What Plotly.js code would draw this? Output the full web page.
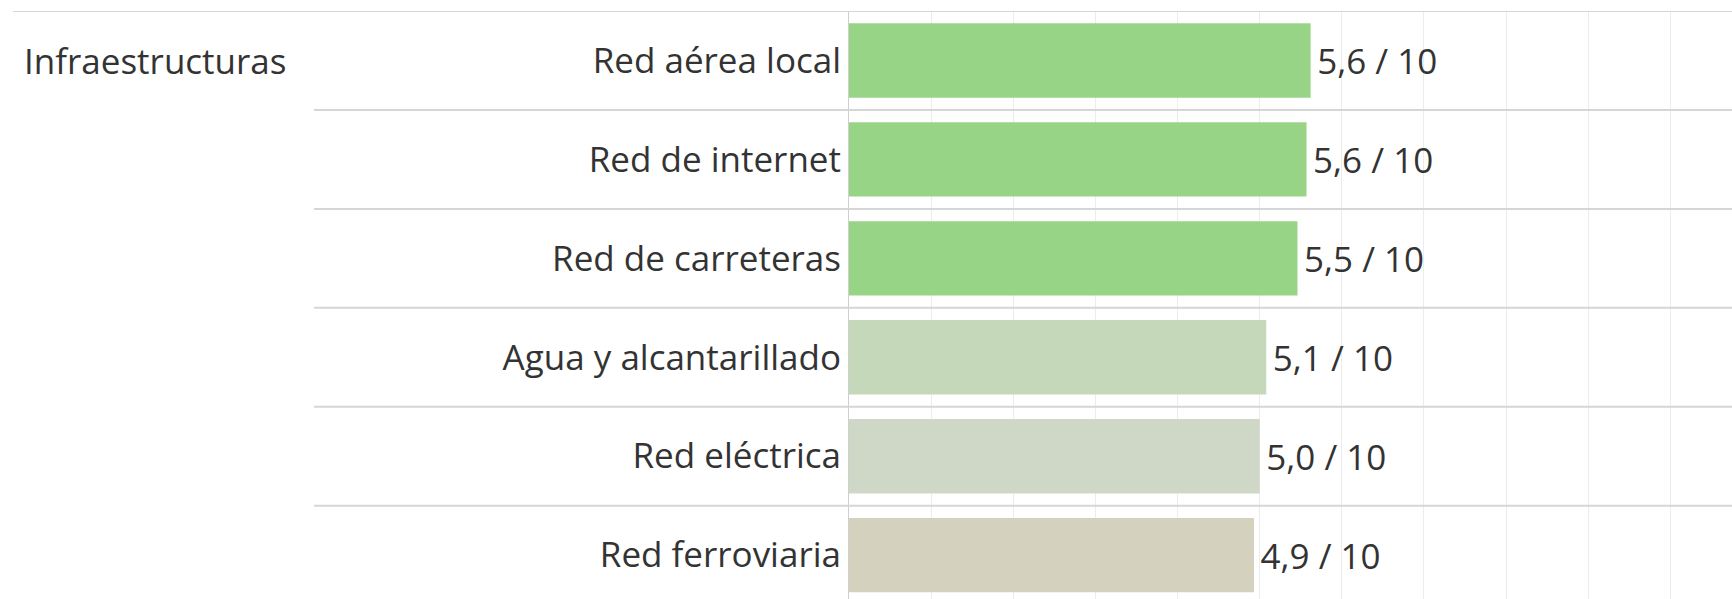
<!DOCTYPE html>
<html>
<head>
<meta charset="utf-8">
<script src="https://cdn.plot.ly/plotly-3.0.1.min.js"></script>
<style>
  html, body { margin: 0; padding: 0; background: #ffffff; }
  #chart { width: 1732px; height: 599px; }
</style>
</head>
<body>
<div id="chart"></div>
<script>
// ---- Data ----
const groupLabel = "Infraestructuras";
const categories = [
  "Red aérea local",
  "Red de internet",
  "Red de carreteras",
  "Agua y alcantarillado",
  "Red eléctrica",
  "Red ferroviaria"
];
const values = [5.62, 5.57, 5.46, 5.08, 5.00, 4.93];
const scaleMax = 10;

// ---- Styles ----
const barColors = ["#97d486", "#97d486", "#97d486", "#c5d8b9", "#cfd8c6", "#d4d1be"];
const textColor = "#333333";
const fontFamily = "'Open Sans', 'Noto Sans', sans-serif";
const fontSize = 35;

const valueText = values.map(v => "\u200A" + v.toFixed(1).replace(".", ",") + " / " + scaleMax);

const trace = {
  type: "bar",
  orientation: "h",
  x: values,
  y: categories,
  text: valueText,
  textposition: "outside",
  cliponaxis: false,
  constraintext: "none",
  textfont: { family: fontFamily, size: fontSize, color: textColor },
  marker: { color: barColors, line: { width: 0 } },
  hoverinfo: "skip"
};

const L = 849, W = 1732;
const px2paper = p => (p - L) / (W - L);

const shapes = [];
// top rule
shapes.push({
  type: "line", xref: "paper", yref: "y",
  x0: px2paper(13), x1: 1, y0: -0.5, y1: -0.5,
  line: { color: "#d6d6d6", width: 2 }
});
// row separators
for (let i = 0; i < categories.length - 1; i++) {
  shapes.push({
    type: "line", xref: "paper", yref: "y",
    x0: px2paper(314), x1: 1, y0: i + 0.5, y1: i + 0.5,
    line: { color: "#d6d6d6", width: 2 }
  });
}

const layout = {
  width: 1732,
  height: 599,
  margin: { l: L, r: 0, t: 11, b: 0, pad: 0 },
  paper_bgcolor: "#ffffff",
  plot_bgcolor: "#ffffff",
  showlegend: false,
  bargap: 0.248,
  font: { family: fontFamily, color: textColor, size: fontSize },
  xaxis: {
    range: [0, 10.75],
    dtick: 1,
    tick0: 0,
    showgrid: true,
    gridcolor: "#ececec",
    gridwidth: 1,
    zeroline: false,
    showticklabels: false,
    ticks: "",
    fixedrange: true
  },
  yaxis: {
    type: "category",
    categoryorder: "array",
    categoryarray: categories,
    range: [5.443, -0.5],
    showgrid: false,
    zeroline: false,
    showline: true,
    linecolor: "#cfcfcf",
    linewidth: 1,
    ticks: "",
    ticklabelstandoff: 0,
    tickfont: { family: fontFamily, size: fontSize, color: textColor },
    fixedrange: true
  },
  shapes: shapes,
  annotations: [{
    text: groupLabel,
    xref: "paper", yref: "y",
    x: px2paper(22), y: categories[0],
    xanchor: "left", yanchor: "middle",
    showarrow: false,
    font: { family: fontFamily, size: fontSize, color: textColor }
  }]
};

Plotly.newPlot("chart", [trace], layout, { displayModeBar: false, staticPlot: true });
</script>
</body>
</html>
